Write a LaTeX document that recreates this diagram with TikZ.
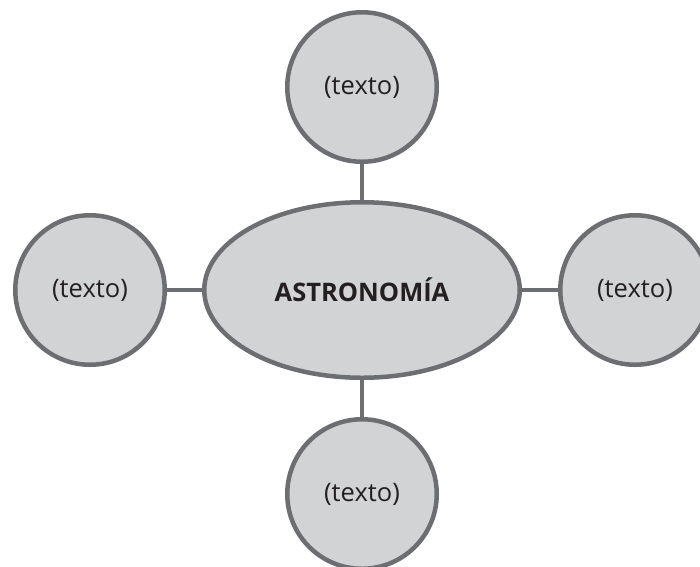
\documentclass[tikz,border=0pt]{standalone}
\usepackage{fontspec}
\setmainfont{Open Sans}
\usetikzlibrary{shapes.geometric, positioning}

\definecolor{rimgray}{HTML}{6D6E71}
\definecolor{bubblegray}{HTML}{D1D3D4}
\definecolor{inkblack}{HTML}{231F20}

\begin{document}
\begin{tikzpicture}[
    x=1pt, y=-1pt,
    bubble/.style={circle, draw=rimgray, line width=4.5pt, fill=bubblegray, minimum size=149.5pt, inner sep=0pt, align=center, text=inkblack, font=\fontsize{25.5}{30}\selectfont},
    core/.style={ellipse, draw=rimgray, line width=4.5pt, fill=bubblegray, minimum width=315.5pt, minimum height=175.5pt, inner sep=0pt, align=center, text=inkblack, font=\fontsize{25.5}{30}\selectfont\bfseries},
    link/.style={draw=rimgray, line width=4.5pt}
  ]

  % canvas
  \useasboundingbox (0,0) rectangle (700,566);
  \clip (0,0) rectangle (700,566);

  % central topic
  \node[core] (astro) at (362,290) {ASTRONOMÍA};

  % satellite ideas
  \node[bubble] (north) at (362,87) {(texto)};
  \node[bubble] (west) at (90,290) {(texto)};
  \node[bubble] (east) at (635,290) {(texto)};
  \node[bubble] (south) at (362,494) {(texto)};

  % links
  \foreach \s in {north, west, east, south} {
      \draw[link] (astro) -- (\s);
    }

\end{tikzpicture}
\end{document}
